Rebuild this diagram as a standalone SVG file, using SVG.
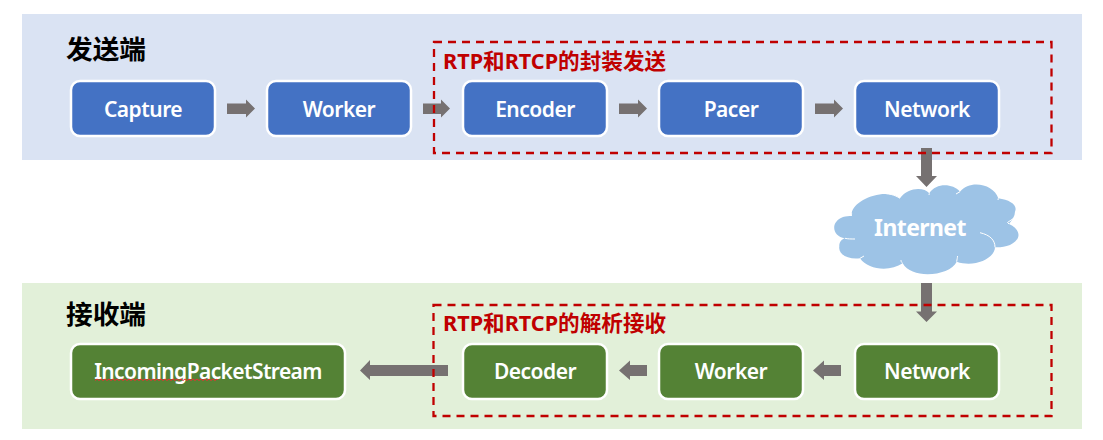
<svg xmlns="http://www.w3.org/2000/svg" width="1103" height="440" viewBox="0 0 1103 440">
<style>
.box{stroke:#fff;stroke-width:2.500}
.blue{fill:#4472C4}
.green{fill:#548235}
.nt{font-family:"Noto Sans","Noto Sans CJK SC",sans-serif;font-weight:600;font-size:21px;letter-spacing:-.5px;fill:#fff;text-anchor:middle}
.title{font-family:"Noto Sans CJK SC",sans-serif;font-weight:700;font-size:26.700px;fill:#000}
.red{font-family:"Noto Sans","Noto Sans CJK SC",sans-serif;font-weight:700;font-size:21.600px;fill:#C00000}
.dash{fill:none;stroke:#C00000;stroke-width:2.300;stroke-dasharray:8 6}
.arrow{fill:#767171}
</style>
<rect x="22" y="14" width="1060" height="146" fill="#DAE3F3"/>
<rect x="22" y="283" width="1060" height="146" fill="#E2F0D9"/>
<g id="connectors">
<polygon class="arrow" points="227,103.5 246,103.5 246,99.5 255,108.5 246,117.5 246,114 227,114"/>
<polygon class="arrow" points="423,103.5 441,103.5 441,99.5 450,108.5 441,117.5 441,114 423,114"/>
<polygon class="arrow" points="619,103.5 638,103.5 638,99.5 647,108.5 638,117.5 638,114 619,114"/>
<polygon class="arrow" points="815,103.5 834,103.5 834,99.5 843,108.5 834,117.5 834,114 815,114"/>
<polygon class="arrow" points="921,148 932,148 932,176 937,176 926.5,187 916,176 921,176"/>
<polygon class="arrow" points="921,283 932,283 932,311.5 937,311.5 926.5,322 916,311.5 921,311.5"/>
<polygon class="arrow" points="448,365 370,365 370,360 360,370.5 370,380 370,376 448,376"/>
<polygon class="arrow" points="647,365 630,365 630,360.5 619,370.5 630,380 630,376 647,376"/>
<polygon class="arrow" points="841,365 824,365 824,360.5 813,370.5 824,380 824,376 841,376"/>
</g>
<g id="sender-title"><text class="title" x="66" y="59">发送端</text></g>
<g id="receiver-title"><text class="title" x="66" y="324">接收端</text></g>
<g id="capture"><rect class="box blue" x="71" y="81" width="144" height="55" rx="9"/><text class="nt" x="143" y="116.500">Capture</text></g>
<g id="worker-send"><rect class="box blue" x="267" y="81" width="144" height="55" rx="9"/><text class="nt" x="339" y="116.500">Worker</text></g>
<g id="encoder"><rect class="box blue" x="463" y="81" width="144" height="55" rx="9"/><text class="nt" x="535" y="116.500">Encoder</text></g>
<g id="pacer"><rect class="box blue" x="659" y="81" width="144" height="55" rx="9"/><text class="nt" x="731" y="116.500">Pacer</text></g>
<g id="network-send"><rect class="box blue" x="855" y="81" width="144" height="55" rx="9"/><text class="nt" x="927" y="116.500">Network</text></g>
<g id="incoming"><rect class="box green" x="71" y="344" width="274" height="55" rx="9"/><text class="nt" x="208" y="378.500" style="letter-spacing:-.6px">IncomingPacketStream</text>
<path d="M95 380.500l2-1.500 2 1.500 2-1.500 2 1.500 2-1.500 2 1.500 2-1.500 2 1.500 2-1.500 2 1.500 2-1.500 2 1.500 2-1.500 2 1.500 2-1.500 2 1.500 2-1.500 2 1.500 2-1.500 2 1.500 2-1.500 2 1.500 2-1.500 2 1.500 2-1.500 2 1.500 2-1.500 2 1.500 2-1.500 2 1.500 2-1.500 2 1.500 2-1.500 2 1.500 2-1.500 2 1.500 2-1.500 2 1.500 2-1.500 2 1.500 2-1.500 2 1.500 2-1.500 2 1.500 2-1.500 2 1.500 2-1.500 2 1.500 2-1.500 2 1.500 2-1.500 2 1.500 2-1.500 2 1.500 2-1.500 2 1.500 2-1.500 2 1.500 2-1.500 2 1.500 2-1.500 1 1" fill="none" stroke="#E83030" stroke-width="1"/></g>
<g id="decoder"><rect class="box green" x="463" y="344" width="144" height="55" rx="9"/><text class="nt" x="535" y="378.500">Decoder</text></g>
<g id="worker-recv"><rect class="box green" x="659" y="344" width="144" height="55" rx="9"/><text class="nt" x="731" y="378.500">Worker</text></g>
<g id="network-recv"><rect class="box green" x="855" y="344" width="144" height="55" rx="9"/><text class="nt" x="927" y="378.500">Network</text></g>
<g id="internet">
<path fill="#9DC3E6" d="M851.700 213.300C853 200 885 187 900 198.300C908 187 924 187 929.300 193.300C936 183 952 183 960 191.700C970 179 994 184 998.300 198.300C1010 200 1018 205 1015 211.700C1015 216 1012 220 1009 224C1022 230 1021 240 1010 245C1005 247 1000 247.500 995 247.300C995 258 975 268 956.700 261.700C950 276 912 280 902.700 263.300C890 272 868 270 860 258.300C848 260 838 254 839.300 246.700C839 242 842 239 845 238.300C832 236 830 222 843 217C846 216 849 216 851.700 216Z"/>
<path fill="none" stroke="#fff" stroke-width="1" d="M855 239C851 239 848 239 845 238.300M851.700 216C851 215 851.500 214 851.700 213.300M880 193.500C888 193 895 195 900 198.300M929.300 193.300L929 195M960 191.700L956 194M998.300 198.300L998 200M1009 224L1007.500 222.500 1014 218M980 232.700C990 235 995 240 995 247.300M956.700 261.700C957 259 957.500 258 957.500 256M902.700 263.300C901 262 901 261 901 260M860 258.300L864 256"/>
<text x="920" y="236" font-family="Noto Sans,sans-serif" font-weight="700" font-size="23" letter-spacing="-.6" fill="#fff" text-anchor="middle">Internet</text>
</g>
<g id="rtp-send">
<rect class="dash" x="434" y="42" width="617.500" height="111"/>
<text class="red" x="443" y="69">RTP和RTCP的封装发送</text>
</g>
<g id="rtp-recv">
<rect class="dash" x="433.500" y="305" width="618" height="111"/>
<text class="red" x="443" y="331">RTP和RTCP的解析接收</text>
</g>
</svg>
